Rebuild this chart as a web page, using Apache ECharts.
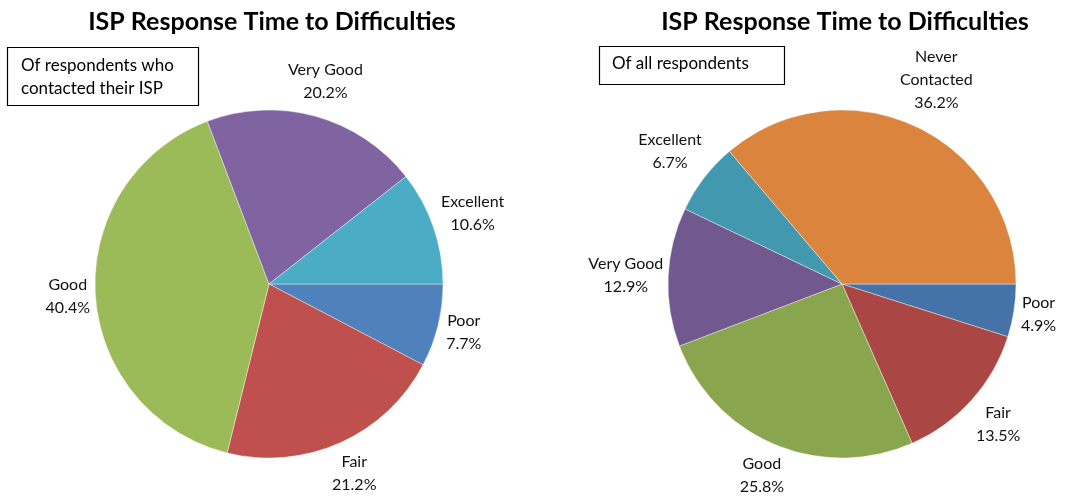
<!DOCTYPE html>
<html>
<head>
<meta charset="utf-8">
<script src="https://cdn.jsdelivr.net/npm/echarts@6/dist/echarts.min.js"></script>
<style>
  html, body { margin: 0; padding: 0; background: #fff; }
  #main { width: 1081px; height: 500px; }
</style>
</head>
<body>
<div id="main"></div>
<script>
// left pie: respondents who contacted their ISP
var leftCats = ['Poor', 'Fair', 'Good', 'Very Good', 'Excellent'];
var leftVals = [7.7, 21.2, 40.4, 20.2, 10.6];
var leftColors = ['#4F81BD', '#C0504D', '#9BBB59', '#8064A2', '#4BACC6'];

// right pie: all respondents
var rightCats = ['Poor', 'Fair', 'Good', 'Very Good', 'Excellent', 'Never Contacted'];
var rightVals = [4.9, 13.5, 25.8, 12.9, 6.7, 36.2];
var rightColors = ['#4572A7', '#AA4643', '#89A54E', '#71588F', '#4198AF', '#DB843D'];

var titleText = 'ISP Response Time to Difficulties';
var FONT = 'Lato, "Open Sans", sans-serif';

var R = 174;
var leftCenter = [269, 284];
var rightCenter = [842, 284];

function toData(cats, vals) {
    return cats.map(function (c, i) { return { name: c, value: vals[i] }; });
}

// put each label just outside the circle, like excel's best fit
function makeLayout(vals, center, r) {
    var total = vals.reduce(function (a, b) { return a + b; }, 0);
    return function (p) {
        var before = 0;
        for (var i = 0; i < p.dataIndex; i++) before += vals[i];
        var a = (before + vals[p.dataIndex] / 2) / total * Math.PI * 2;
        var dx = Math.cos(a), dy = Math.sin(a);
        var w = p.labelRect.width, h = p.labelRect.height;
        var d = r + Math.abs(dx) * w / 2 + Math.abs(dy) * h / 2 + 4;
        return {
            x: center[0] + dx * d,
            y: center[1] + dy * d,
            align: 'center',
            verticalAlign: 'middle'
        };
    };
}

function pieSeries(cats, vals, colors, center) {
    return {
        type: 'pie',
        center: center,
        radius: R,
        startAngle: 0,
        clockwise: true,
        avoidLabelOverlap: false,
        animation: false,
        emphasis: { disabled: true },
        data: toData(cats, vals),
        itemStyle: {
            color: function (p) { return colors[p.dataIndex]; },
            borderColor: '#fff',
            borderWidth: 0.4
        },
        label: {
            show: true,
            position: 'outside',
            fontFamily: FONT,
            fontSize: 16,
            lineHeight: 23,
            color: '#111',
            align: 'center',
            formatter: function (p) {
                var n = p.name.length > 10 ? p.name.replace(' ', '\n') : p.name;
                return n + '\n' + p.value.toFixed(1) + '%';
            }
        },
        labelLine: { show: false },
        labelLayout: makeLayout(vals, center, R)
    };
}

var myChart = echarts.init(document.getElementById('main'));

option = {
    backgroundColor: '#fff',
    title: [{
        text: titleText,
        left: 272,
        top: 9,
        padding: 0,
        textAlign: 'center',
        textStyle: { fontFamily: FONT, fontWeight: 'bold', fontSize: 25, color: '#000' }
    }, {
        text: titleText,
        left: 845,
        top: 9,
        padding: 0,
        textAlign: 'center',
        textStyle: { fontFamily: FONT, fontWeight: 'bold', fontSize: 25, color: '#000' }
    }],
    graphic: [{
        type: 'rect',
        shape: { x: 7.5, y: 47.5, width: 191, height: 58 },
        style: { fill: '#fff', stroke: '#000', lineWidth: 1.2 }
    }, {
        type: 'text',
        x: 21,
        y: 77,
        style: {
            text: 'Of respondents who\ncontacted their ISP',
            fontFamily: FONT, fontSize: 17, lineHeight: 23,
            fill: '#000', verticalAlign: 'middle'
        }
    }, {
        type: 'rect',
        shape: { x: 599.5, y: 46.5, width: 185, height: 38 },
        style: { fill: '#fff', stroke: '#000', lineWidth: 1.2 }
    }, {
        type: 'text',
        x: 612,
        y: 64,
        style: {
            text: 'Of all respondents',
            fontFamily: FONT, fontSize: 17,
            fill: '#000', verticalAlign: 'middle'
        }
    }],
    series: [
        pieSeries(leftCats, leftVals, leftColors, leftCenter),
        pieSeries(rightCats, rightVals, rightColors, rightCenter)
    ]
};

myChart.setOption(option);
</script>
</body>
</html>
